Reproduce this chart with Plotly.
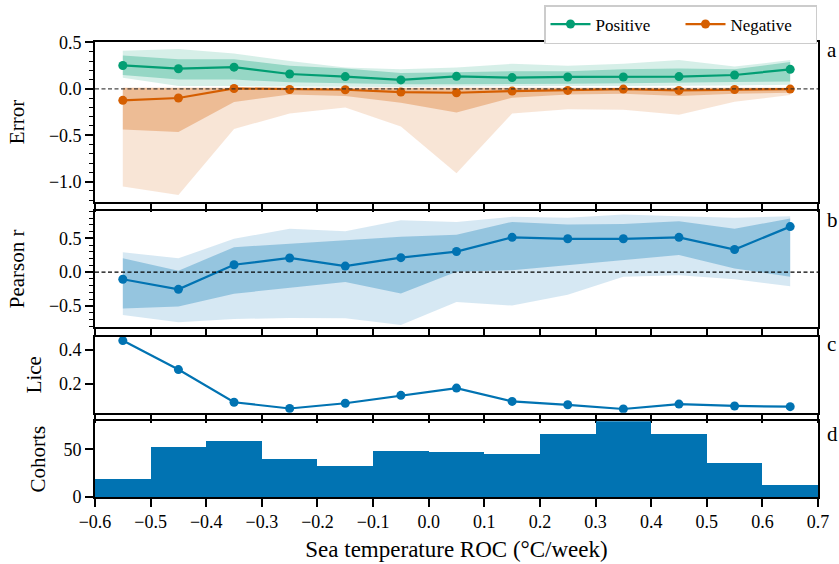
import plotly.graph_objects as go

# Bin centres of the sea-temperature rate-of-change (°C/week)
roc_mid = [-0.55, -0.45, -0.35, -0.25, -0.15, -0.05, 0.05, 0.15, 0.25, 0.35, 0.45, 0.55, 0.65]

# Error, positive residuals: median, inner (IQR) band and outer band
pos_med = [0.252, 0.217, 0.234, 0.160, 0.132, 0.096, 0.135, 0.121, 0.128, 0.128, 0.132, 0.149, 0.210]
pos_in_hi = [0.36, 0.32, 0.32, 0.25, 0.22, 0.17, 0.18, 0.19, 0.19, 0.21, 0.22, 0.21, 0.29]
pos_in_lo = [0.15, 0.10, 0.10, 0.07, 0.06, 0.05, 0.05, 0.05, 0.055, 0.06, 0.07, 0.075, 0.08]
pos_out_hi = [0.41, 0.43, 0.38, 0.30, 0.23, 0.21, 0.23, 0.27, 0.25, 0.27, 0.31, 0.24, 0.31]
pos_out_lo = [0.12, 0.03, 0.03, 0.025, 0.025, 0.02, 0.025, 0.03, 0.03, 0.03, 0.03, 0.035, 0.045]

# Error, negative residuals
neg_med = [-0.124, -0.099, 0.004, -0.007, -0.010, -0.035, -0.042, -0.024, -0.017, -0.003, -0.017, -0.007, -0.003]
neg_in_hi = [0.01, 0.01, 0.01, 0.01, 0.01, 0.01, 0.01, 0.01, 0.01, 0.01, 0.01, 0.01, 0.01]
neg_in_lo = [-0.439, -0.464, -0.141, -0.060, -0.078, -0.149, -0.255, -0.096, -0.060, -0.053, -0.078, -0.053, -0.043]
neg_out_hi = [0.015, 0.015, 0.015, 0.015, 0.015, 0.015, 0.015, 0.015, 0.015, 0.015, 0.015, 0.015, 0.015]
neg_out_lo = [-1.053, -1.145, -0.432, -0.266, -0.202, -0.407, -0.911, -0.266, -0.219, -0.226, -0.280, -0.138, -0.067]

# Pearson correlation per bin
r_med = [-0.105, -0.254, 0.110, 0.210, 0.090, 0.215, 0.305, 0.515, 0.494, 0.494, 0.515, 0.335, 0.674]
r_in_hi = [0.205, 0.020, 0.370, 0.420, 0.464, 0.524, 0.554, 0.744, 0.704, 0.714, 0.754, 0.644, 0.794]
r_in_lo = [-0.539, -0.509, -0.319, -0.234, -0.144, -0.314, 0.006, 0.030, 0.105, 0.180, 0.254, 0.055, -0.069]
r_out_hi = [0.295, 0.205, 0.494, 0.644, 0.604, 0.769, 0.744, 0.819, 0.804, 0.853, 0.829, 0.804, 0.829]
r_out_lo = [-0.633, -0.743, -0.693, -0.678, -0.683, -0.783, -0.443, -0.494, -0.334, -0.069, -0.045, -0.105, -0.210]

# Mean lice per bin
lice = [0.456, 0.284, 0.090, 0.053, 0.084, 0.131, 0.174, 0.095, 0.075, 0.050, 0.079, 0.068, 0.064]

# Number of cohorts per bin
cohorts = [19, 52, 59, 40, 32, 48, 47, 45, 66, 80, 66, 35, 12]

x_ticks = [-0.6, -0.5, -0.4, -0.3, -0.2, -0.1, 0.0, 0.1, 0.2, 0.3, 0.4, 0.5, 0.6, 0.7]
x_ticktext = ["\u22120.6", "\u22120.5", "\u22120.4", "\u22120.3", "\u22120.2", "\u22120.1",
              "0.0", "0.1", "0.2", "0.3", "0.4", "0.5", "0.6", "0.7"]

GREEN = "#029E73"
ORANGE = "#D55E00"
BLUE = "#0173B2"
FONT = "Liberation Serif, Times New Roman, serif"


def rgba(hex_col, a):
    h = hex_col.lstrip("#")
    r, g, b = int(h[0:2], 16), int(h[2:4], 16), int(h[4:6], 16)
    return f"rgba({r},{g},{b},{a})"


fig = go.Figure()


def band(lo, hi, color, alpha, xa, ya):
    fig.add_trace(go.Scatter(x=roc_mid, y=lo, mode="lines", line=dict(width=0),
                             showlegend=False, hoverinfo="skip", xaxis=xa, yaxis=ya))
    fig.add_trace(go.Scatter(x=roc_mid, y=hi, mode="lines", line=dict(width=0),
                             fill="tonexty", fillcolor=rgba(color, alpha),
                             showlegend=False, hoverinfo="skip", xaxis=xa, yaxis=ya))


# Panel a: error bands and medians
band(pos_out_lo, pos_out_hi, GREEN, 0.16, "x", "y")
band(neg_out_lo, neg_out_hi, ORANGE, 0.16, "x", "y")
band(pos_in_lo, pos_in_hi, GREEN, 0.30, "x", "y")
band(neg_in_lo, neg_in_hi, ORANGE, 0.30, "x", "y")
fig.add_trace(go.Scatter(x=roc_mid, y=pos_med, mode="lines+markers", name="Positive",
                         line=dict(color=GREEN, width=2.2), marker=dict(color=GREEN, size=9),
                         xaxis="x", yaxis="y"))
fig.add_trace(go.Scatter(x=roc_mid, y=neg_med, mode="lines+markers", name="Negative",
                         line=dict(color=ORANGE, width=2.2), marker=dict(color=ORANGE, size=9),
                         xaxis="x", yaxis="y"))

# Panel b: Pearson r
band(r_out_lo, r_out_hi, BLUE, 0.16, "x2", "y2")
band(r_in_lo, r_in_hi, BLUE, 0.30, "x2", "y2")
fig.add_trace(go.Scatter(x=roc_mid, y=r_med, mode="lines+markers", showlegend=False,
                         line=dict(color=BLUE, width=2.2), marker=dict(color=BLUE, size=9),
                         xaxis="x2", yaxis="y2"))

# Panel c: lice
fig.add_trace(go.Scatter(x=roc_mid, y=lice, mode="lines+markers", showlegend=False,
                         line=dict(color=BLUE, width=2.2), marker=dict(color=BLUE, size=9),
                         xaxis="x3", yaxis="y3"))

# Panel d: cohort histogram
fig.add_trace(go.Bar(x=roc_mid, y=cohorts, width=0.1, showlegend=False,
                     marker=dict(color=BLUE, line=dict(width=0)),
                     xaxis="x4", yaxis="y4"))

# Zero reference lines
fig.add_shape(type="line", xref="x domain", yref="y", x0=0, x1=1, y0=0, y1=0,
              line=dict(color="rgba(40,40,40,0.85)", width=1.4, dash="4px,2.5px"), layer="above")
fig.add_shape(type="line", xref="x2 domain", yref="y2", x0=0, x1=1, y0=0, y1=0,
              line=dict(color="black", width=1.3, dash="4px,2.5px"), layer="above")

W, H = 839, 564
ML, MR, MT, MB = 95, 21, 42, 67
PH = H - MT - MB


def fy(px):
    return (H - MB - px) / PH


axis_common = dict(showline=True, linecolor="black", linewidth=1.6, mirror=True,
                   ticks="outside", ticklen=8, tickwidth=1.5, tickcolor="black",
                   showgrid=False, zeroline=False,
                   tickfont=dict(family=FONT, size=18, color="black"))

x_common = dict(axis_common, range=[-0.6, 0.7], tickvals=x_ticks, ticktext=x_ticktext)

domains = {
    "a": [fy(202), 1.0],
    "b": [fy(326.7), fy(211)],
    "c": [fy(412.7), fy(336.7)],
    "d": [0.0, fy(421.3)],
}

title_font = dict(family=FONT, size=21, color="black")

fig.update_layout(
    width=W, height=H,
    margin=dict(l=ML, r=MR, t=MT, b=MB, autoexpand=False),
    paper_bgcolor="white", plot_bgcolor="white",
    font=dict(family=FONT, size=17, color="black"),
    bargap=0,
    xaxis=dict(x_common, domain=[0, 1], anchor="y", showticklabels=False),
    xaxis2=dict(x_common, domain=[0, 1], anchor="y2", matches="x", showticklabels=False),
    xaxis3=dict(x_common, domain=[0, 1], anchor="y3", matches="x", showticklabels=False),
    xaxis4=dict(x_common, domain=[0, 1], anchor="y4", matches="x",
                title=dict(text="Sea temperature ROC (\u00b0C/week)",
                           font=dict(family=FONT, size=23, color="black"), standoff=9)),
    yaxis=dict(axis_common, domain=domains["a"], anchor="x", range=[-1.22, 0.505],
               tickvals=[-1.0, -0.5, 0.0, 0.5], ticktext=["\u22121.0", "\u22120.5", "0.0", "0.5"],
               minor=dict(dtick=0.1, tick0=0, ticks="outside", ticklen=4.5, tickwidth=1.2, tickcolor="black"),
               title=dict(text="Error", font=title_font, standoff=19)),
    yaxis2=dict(axis_common, domain=domains["b"], anchor="x2", range=[-0.807, 0.905],
                tickvals=[-0.5, 0.0, 0.5], ticktext=["\u22120.5", "0.0", "0.5"],
                minor=dict(dtick=0.1, tick0=0, ticks="outside", ticklen=4.5, tickwidth=1.2, tickcolor="black"),
                title=dict(text="Pearson r", font=title_font, standoff=19)),
    yaxis3=dict(axis_common, domain=domains["c"], anchor="x3", range=[0.028, 0.479],
                tickvals=[0.2, 0.4], ticktext=["0.2", "0.4"],
                title=dict(text="Lice", font=title_font, standoff=12)),
    yaxis4=dict(axis_common, domain=domains["d"], anchor="x4", range=[0, 79.5],
                tickvals=[0, 50], ticktext=["0", "50"],
                title=dict(text="Cohorts", font=title_font, standoff=12)),
    legend=dict(orientation="h", traceorder="normal",
                x=(817 - ML) / (W - ML - MR), xanchor="right",
                y=1 + (MT - 5) / PH, yanchor="top",
                bordercolor="#cccccc", borderwidth=1.5, bgcolor="white",
                font=dict(family=FONT, size=17, color="black"),
                entrywidth=80, itemwidth=40),
    showlegend=True,
)

# Panel letters
for letter, ypx in (("a", 50), ("b", 220), ("c", 344), ("d", 434)):
    fig.add_annotation(text=letter, xref="paper", yref="paper",
                       x=(825 - ML) / (W - ML - MR), y=fy(ypx),
                       xanchor="left", yanchor="middle", showarrow=False,
                       font=dict(family=FONT, size=21, color="black"))

fig.write_html("out.html")
